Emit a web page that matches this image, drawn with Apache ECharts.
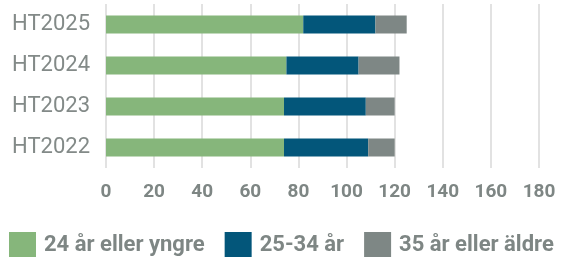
<!DOCTYPE html>
<html>
<head>
<meta charset="utf-8">
<script src="https://cdn.jsdelivr.net/npm/echarts@6/dist/echarts.min.js"></script>
<style>
  html, body { margin: 0; padding: 0; background: #fff; }
  #chart { width: 561px; height: 257px; }
</style>
</head>
<body>
<div id="chart"></div>
<script>
// terminer, nedifrån och upp
var terms = ['HT2022', 'HT2023', 'HT2024', 'HT2025'];

var young = [74, 74, 75, 82];   // 24 år eller yngre
var middle = [35, 34, 30, 30];  // 25-34 år
var older = [11, 12, 17, 13];   // 35 år eller äldre

var seriesNames = ['24 år eller yngre', '25-34 år', '35 år eller äldre'];
var colors = ['#86b67b', '#03567a', '#7e8785'];

var textGray = '#7e8684';

var myChart = echarts.init(document.getElementById('chart'));

function bar(name, data, color) {
    return {
        name: name,
        type: 'bar',
        stack: 'total',
        data: data,
        barWidth: 18,
        itemStyle: { color: color },
        emphasis: { disabled: true }
    };
}

myChart.setOption({
    animation: false,
    color: colors,
    grid: { left: 106, right: 22, top: 4, bottom: 89 },
    legend: {
        left: 9,
        top: 232,
        padding: 0,
        icon: 'rect',
        itemWidth: 27,
        itemHeight: 27,
        itemGap: 20,
        textStyle: {
            fontFamily: 'Roboto',
            fontWeight: 'bold',
            fontSize: 22,
            color: textGray,
            padding: [0, 0, 0, 3]
        },
        data: seriesNames
    },
    xAxis: {
        type: 'value',
        min: 0,
        max: 180,
        interval: 20,
        axisLine: { show: false },
        axisTick: { show: false },
        splitLine: { lineStyle: { color: '#d9d9d9', width: 1.5 } },
        axisLabel: {
            margin: 15,
            fontFamily: 'Roboto',
            fontWeight: 'bold',
            fontSize: 19,
            color: textGray
        }
    },
    yAxis: {
        type: 'category',
        data: terms,
        axisLine: { show: false },
        axisTick: { show: false },
        axisLabel: {
            margin: 16,
            fontFamily: 'Roboto',
            fontSize: 22,
            color: '#838a88'
        }
    },
    series: [
        bar(seriesNames[0], young, colors[0]),
        bar(seriesNames[1], middle, colors[1]),
        bar(seriesNames[2], older, colors[2])
    ]
});
</script>
</body>
</html>
